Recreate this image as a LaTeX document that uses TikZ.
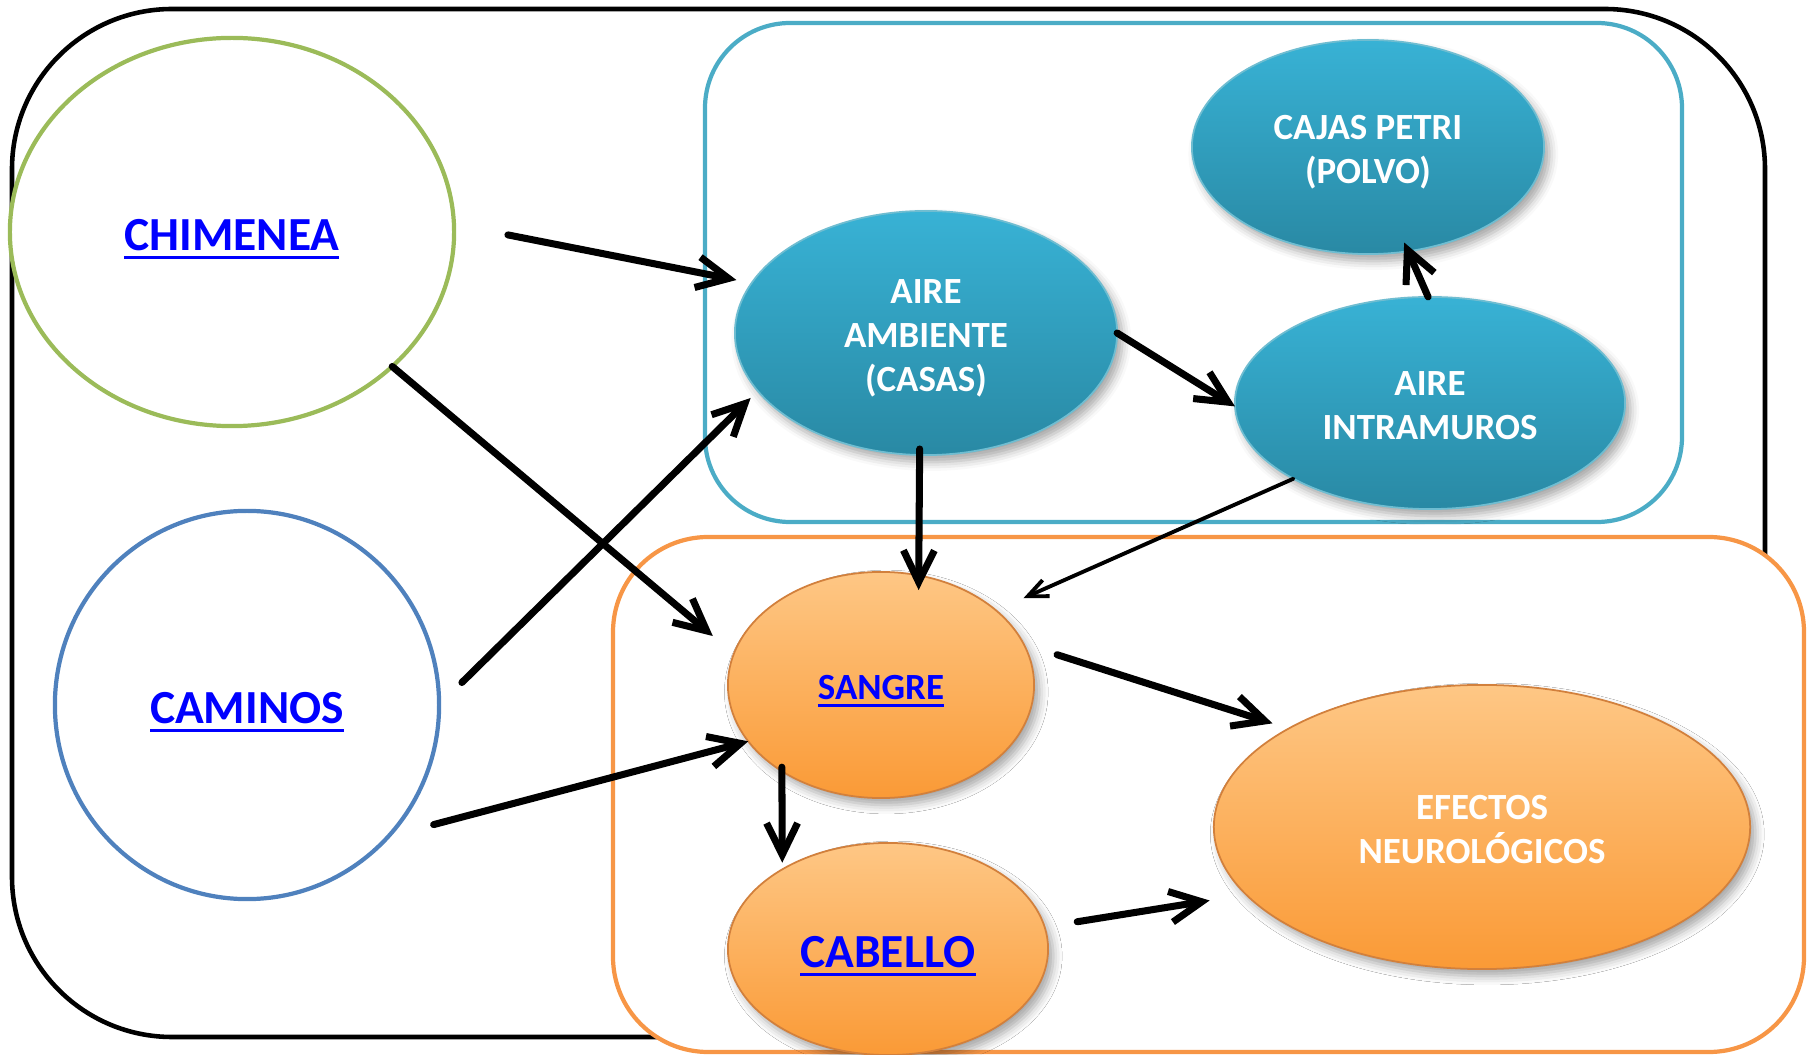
\documentclass[tikz,border=0pt]{standalone}
\usepackage{fontspec}
\setmainfont{Carlito}
\usetikzlibrary{arrows.meta,shapes.geometric,shadows.blur}
\definecolor{linkblue}{HTML}{0000FF}
\definecolor{olgreen}{HTML}{9BBB59}
\definecolor{ofblue}{HTML}{4F81BD}
\definecolor{aqua}{HTML}{4BACC6}
\definecolor{orng}{HTML}{F79646}
\definecolor{btop}{RGB}{56,178,213}
\definecolor{bbot}{RGB}{41,137,164}
\definecolor{otop}{RGB}{254,199,133}
\definecolor{obot}{RGB}{250,154,54}
\newcommand\ulink[1]{{\color{linkblue}\setbox0\hbox{#1}\rlap{\smash{\rule[-0.19em]{\wd0}{0.06em}}}\box0}}
\newcommand\nodepth[1]{\raisebox{0pt}[\height][0pt]{#1}}
\newcommand\lw[1]{\raisebox{-0.75pt}[\height][\depth]{#1}}
\begin{document}
\begin{tikzpicture}[x=0.01cm,y=-0.01cm,
  bigfont/.style={font=\fontsize{13.5}{16}\selectfont\bfseries},
  smallfont/.style={font=\fontsize{10.5}{12.6}\selectfont\bfseries},
  src/.style={ellipse, draw, line width=1.2pt, fill=white, inner sep=0pt, outer sep=0pt, align=center, bigfont},
  bnode/.style={ellipse, draw=aqua!80!white, line width=0.5pt, top color=btop, bottom color=bbot, text=white,
    inner sep=0pt, outer sep=0pt, align=center, smallfont,
    blur shadow={shadow xshift=1.5pt, shadow yshift=-2pt, shadow blur radius=2.5pt, shadow opacity=35}},
  onode/.style={ellipse, draw=orng!85!black, line width=0.5pt, top color=otop, bottom color=obot, text=white,
    inner sep=0pt, outer sep=0pt, align=center, smallfont,
    blur shadow={shadow xshift=1.5pt, shadow yshift=-2pt, shadow blur radius=2.5pt, shadow opacity=35}},
  arr/.style={line width=2pt, line cap=round, line join=round, -{Straight Barb[length=9pt,width=8.8pt]}},
  thinarr/.style={line width=1.1pt, line cap=round, line join=round, -{Straight Barb[length=5.7pt,width=5pt]}},
]
\useasboundingbox (0,0) rectangle (1820,1055);
% containers
\draw[line width=1.3pt, rounded corners=1.6cm] (12,9) rectangle (1765,1037);
\draw[aqua, line width=1.2pt, rounded corners=0.85cm] (705,23) rectangle (1682,522);
\draw[orng, fill=white, line width=1.2pt, rounded corners=0.95cm] (613,537) rectangle (1804,1052);
% nodes
\node[src, draw=olgreen, minimum width=4.44cm, minimum height=3.88cm] (chim) at (232,232) {\lw{\ulink{CHIMENEA}}};
\node[src, draw=ofblue, minimum width=3.84cm, minimum height=3.88cm] (cam) at (247,705) {\lw{\ulink{CAMINOS}}};
\node[bnode, minimum width=3.52cm, minimum height=2.14cm] (cajas) at (1368,147) {\lw{CAJAS PETRI}\\\lw{\nodepth{(POLVO)}}};
\node[bnode, minimum width=3.82cm, minimum height=2.44cm] (aire) at (926,333) {\lw{AIRE}\\\lw{AMBIENTE}\\\lw{\nodepth{(CASAS)}}};
\node[bnode, minimum width=3.9cm, minimum height=2.12cm] (intra) at (1430,403) {\lw{AIRE}\\\lw{INTRAMUROS}};
\node[onode, minimum width=3.06cm, minimum height=2.26cm] (sangre) at (881,685) {\lw{\ulink{SANGRE}}};
\node[onode, bigfont, minimum width=3.2cm, minimum height=2.12cm] (cab) at (888,949) {\lw{\ulink{CABELLO}}};
\node[onode, minimum width=5.36cm, minimum height=2.84cm] (efe) at (1482,827) {\lw{EFECTOS}\\\lw{NEUROLÓGICOS}};
% connectors
\draw[arr, shorten <=0.55cm, shorten >=0.155cm] (chim.2.7) -- (aire.164.8);
\draw[arr, shorten >=0.275cm] (chim.-40.7) -- (sangre.168.8);
\draw[arr, shorten <=0.32cm, shorten >=0.1cm] (cam.0.2) -- (aire.-161.4);
\draw[arr, shorten <=0.47cm] (cam.-43.7) -- (sangre.-157.4);
\draw[arr, shorten <=-0.06cm, shorten >=-0.146cm] (aire.-93.75) -- (sangre.71.35);
\draw[arr] (aire.0) -- (intra.181.8);
\draw[arr, shorten >=-0.095cm] (intra.91) -- (cajas.-69.55);
\draw[thinarr, shorten >=0.3cm] (intra.-151.8) -- (sangre.33.7);
\draw[arr, shorten <=0.35cm, shorten >=0.17cm] (sangre.16) -- (efe.153.7);
\draw[arr, shorten <=-0.04cm, shorten >=0.066cm] (sangre.-139) -- (cab.143.2);
\draw[arr, shorten <=0.33cm, shorten >=0.37cm] (cab.8.1) -- (efe.-164.85);
\end{tikzpicture}
\end{document}
